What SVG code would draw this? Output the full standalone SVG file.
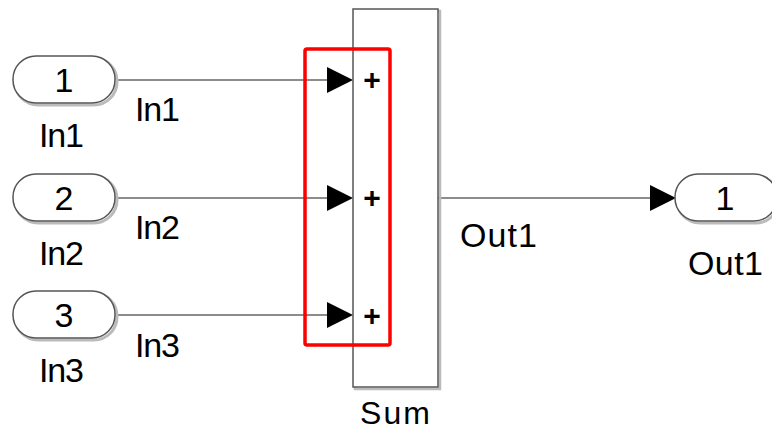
<svg xmlns="http://www.w3.org/2000/svg" width="772" height="431" viewBox="0 0 772 431">
<style>
text{font-family:"Liberation Sans",Arial,sans-serif;fill:#000}
.lbl{font-size:34px}
.num{font-size:34px;text-anchor:middle}
.plus{font-size:30px;font-weight:bold;text-anchor:middle}
.pill{fill:#fff;stroke:#555;stroke-width:1.5}
.shadow{fill:none;stroke:#bbb;stroke-width:3}
.wire{stroke:#666;stroke-width:1.5;fill:none}
.arrow{fill:#000}
</style>
<rect width="772" height="431" fill="#fff"/>
<g id="connectors">
<line class="wire" x1="116" y1="80" x2="330" y2="80"/>
<polygon class="arrow" points="327,67 353,80 327,93"/>
<line class="wire" x1="116" y1="198" x2="330" y2="198"/>
<polygon class="arrow" points="327,185 353,198 327,211"/>
<line class="wire" x1="116" y1="315" x2="330" y2="315"/>
<polygon class="arrow" points="327,302 353,315 327,328"/>
<line class="wire" x1="438" y1="198" x2="652" y2="198"/>
<polygon class="arrow" points="650,185 676,198 650,211"/>
<text class="lbl" x="135" y="121" textLength="45">In1</text>
<text class="lbl" x="135" y="239" textLength="45">In2</text>
<text class="lbl" x="135" y="357" textLength="45">In3</text>
<text class="lbl" x="460" y="247" textLength="77">Out1</text>
</g>
<g id="In1">
<rect class="shadow" x="15" y="58" width="102" height="47" rx="23"/>
<rect class="pill" x="13" y="56" width="102" height="47" rx="23"/>
<text class="num" x="64" y="92">1</text>
<text class="lbl" x="39" y="147" textLength="45">In1</text>
</g>
<g id="In2">
<rect class="shadow" x="15" y="176" width="102" height="47" rx="23"/>
<rect class="pill" x="13" y="174" width="102" height="47" rx="23"/>
<text class="num" x="64" y="210">2</text>
<text class="lbl" x="39" y="265" textLength="45">In2</text>
</g>
<g id="In3">
<rect class="shadow" x="15" y="293" width="102" height="47" rx="23"/>
<rect class="pill" x="13" y="291" width="102" height="47" rx="23"/>
<text class="num" x="64" y="327">3</text>
<text class="lbl" x="39" y="382" textLength="45">In3</text>
</g>
<g id="Sum">
<rect x="355" y="11" width="85" height="378" fill="none" stroke="#bbb" stroke-width="2.5"/>
<rect x="353" y="9" width="85" height="378" fill="#fff" stroke="#555" stroke-width="1.5"/>
<text class="plus" x="372" y="90">+</text>
<text class="plus" x="372" y="208">+</text>
<text class="plus" x="372" y="326">+</text>
<text x="395" y="424" font-size="32" text-anchor="middle" textLength="70">Sum</text>
</g>
<g id="highlight">
<rect x="305" y="49" width="85" height="296" rx="2" fill="none" stroke="#f00" stroke-width="3.5"/>
</g>
<g id="Out1">
<rect class="shadow" x="677" y="176" width="102" height="47" rx="23"/>
<rect class="pill" x="675" y="174" width="102" height="47" rx="23"/>
<text class="num" x="725" y="210">1</text>
<text class="lbl" x="688" y="275" textLength="75">Out1</text>
</g>
</svg>
